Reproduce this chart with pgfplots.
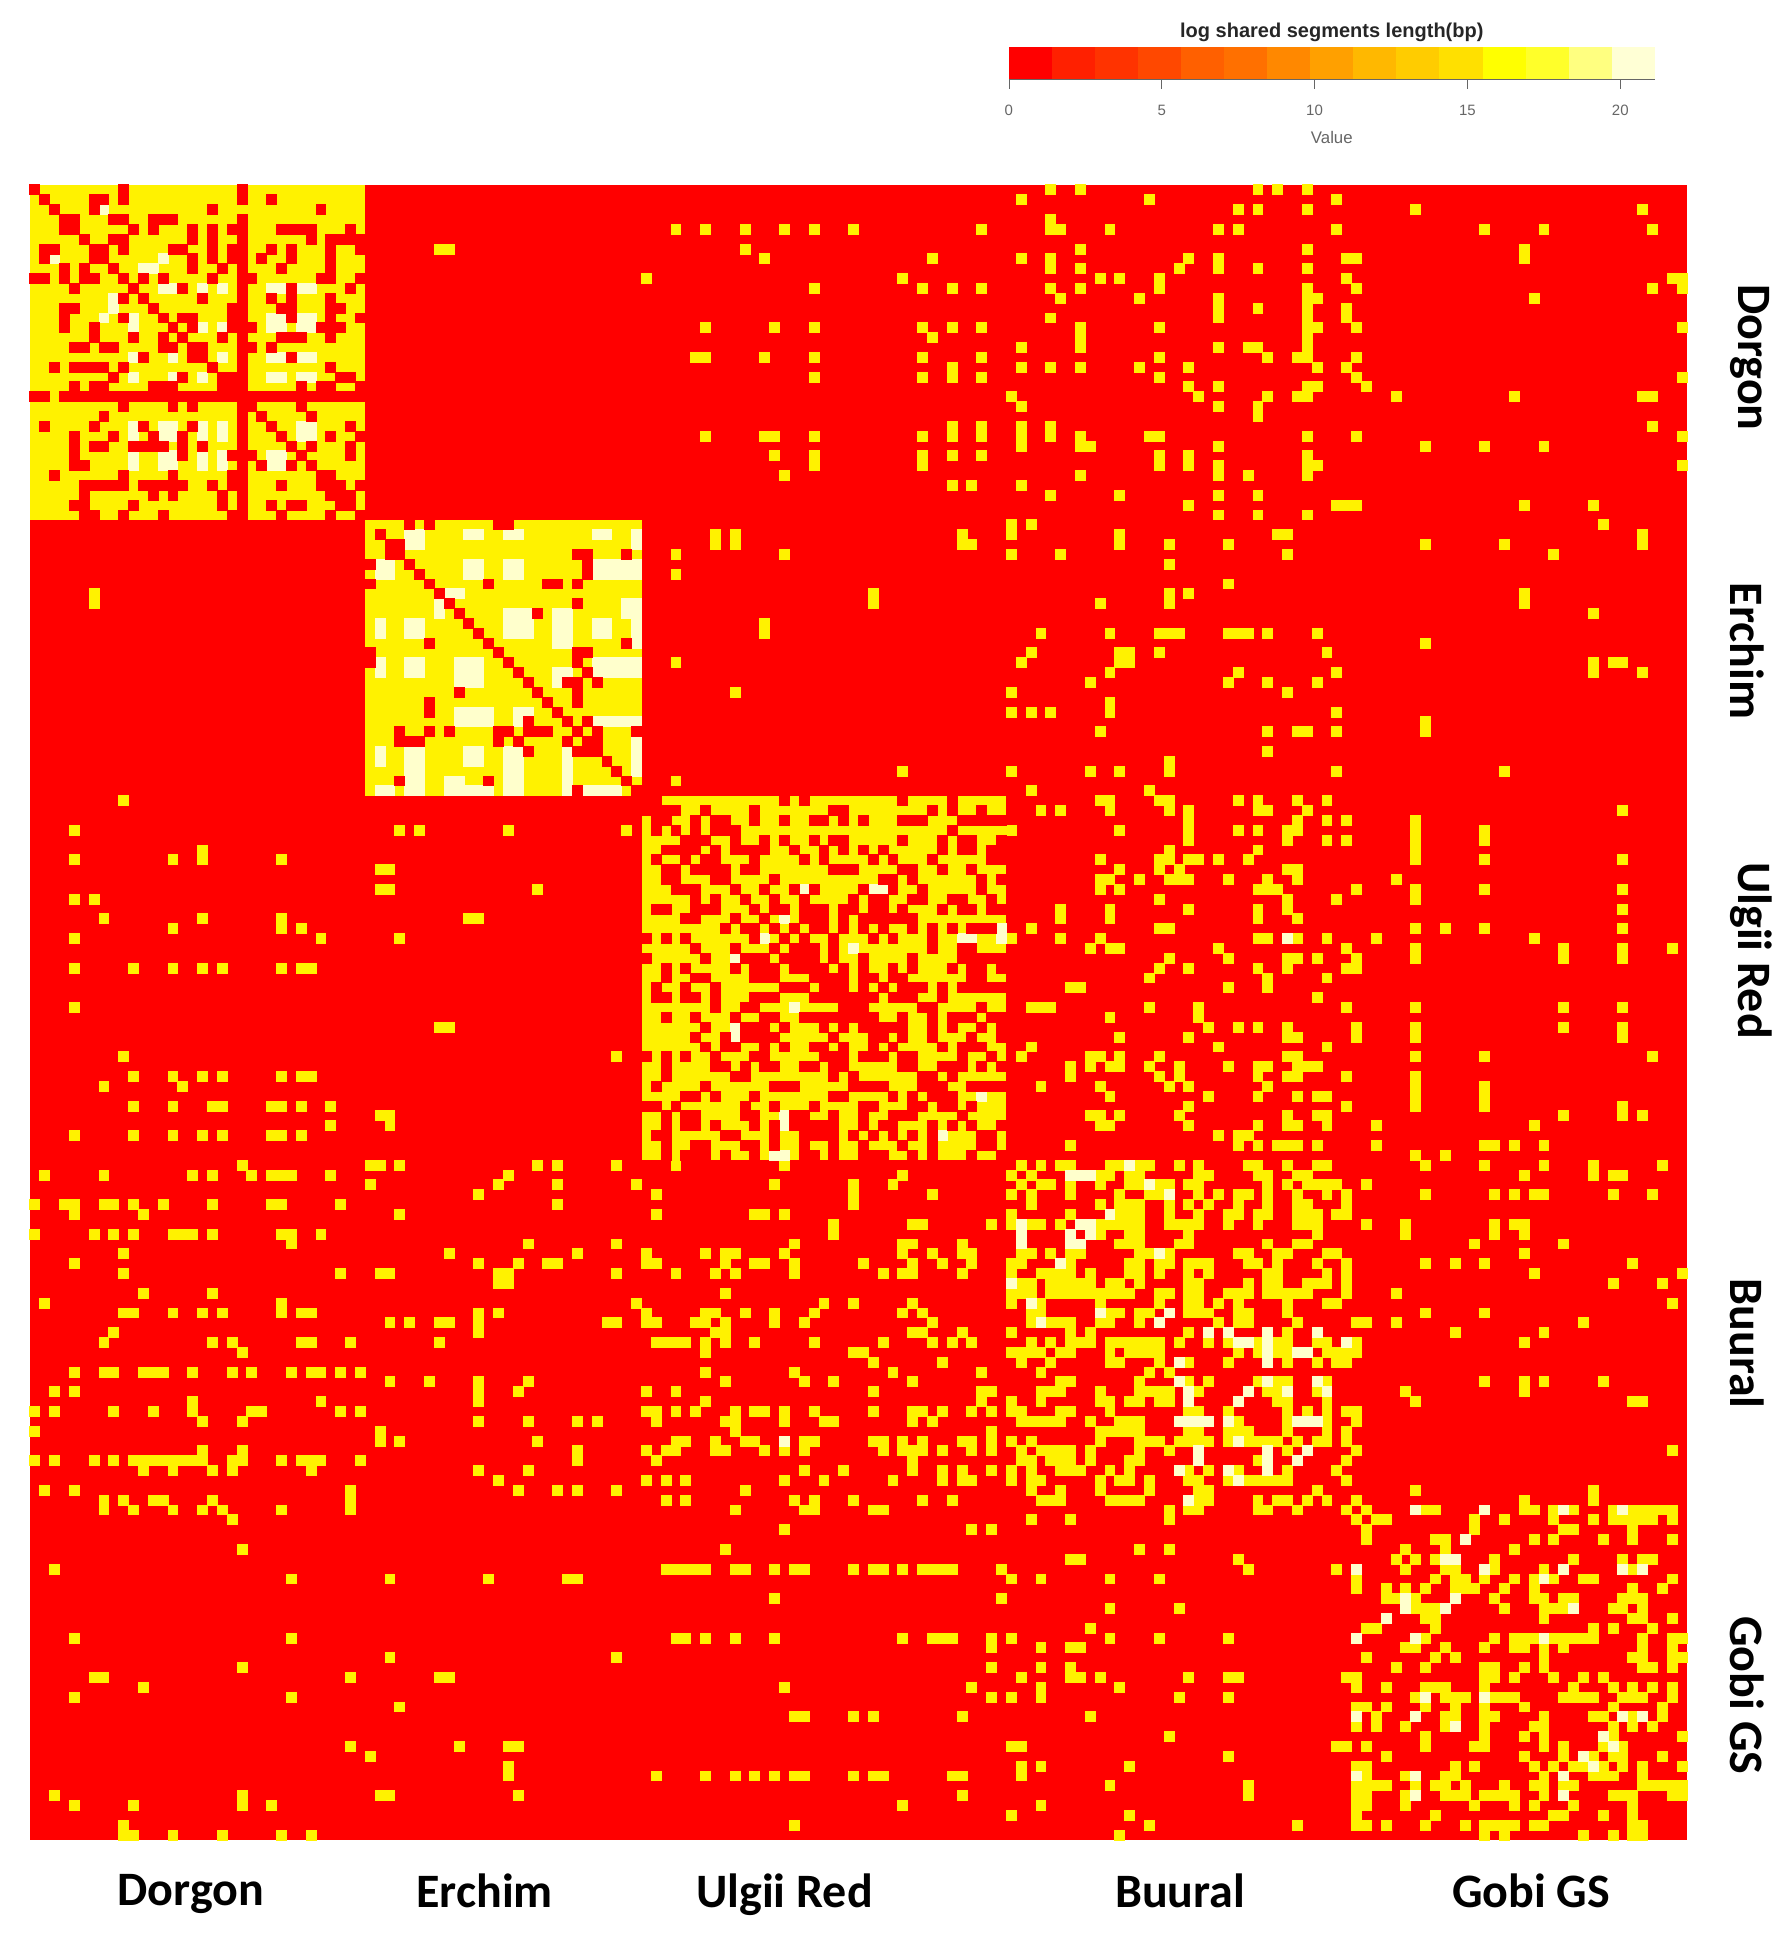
\documentclass[border=0pt]{standalone}
\usepackage{fontspec}
\setmainfont{Liberation Sans}
\newfontfamily\labfont{Carlito}
\usepackage{pgfplots}
\usepackage{pgfplotstable}
\pgfplotsset{compat=1.18}
\definecolor{pale}{HTML}{FFFFCC}
\definecolor{k0}{HTML}{FF0000}\definecolor{k1}{HTML}{FF2000}\definecolor{k2}{HTML}{FF3300}
\definecolor{k3}{HTML}{FF4800}\definecolor{k4}{HTML}{FF6000}\definecolor{k5}{HTML}{FF7000}
\definecolor{k6}{HTML}{FF8800}\definecolor{k7}{HTML}{FFA000}\definecolor{k8}{HTML}{FFB800}
\definecolor{k9}{HTML}{FFCC00}\definecolor{k10}{HTML}{FFE000}\definecolor{k11}{HTML}{FFFF00}
\definecolor{k12}{HTML}{FFFF2A}\definecolor{k13}{HTML}{FFFF80}\definecolor{k14}{HTML}{FFFFD5}

% upper triangle only, the matrix is symmetric: each table is plotted twice
% red cells inside the three yellow blocks
\pgfplotstableread[row sep=\\]{r c\\
0 0\\0 9\\0 21\\1 1\\1 6\\1 7\\1 9\\1 21\\1 24\\2 2\\2 6\\2 18\\2 29\\3 3\\3 4\\3 8\\3 9\\3 12\\3 13\\3 14\\3 21\\
4 4\\4 10\\4 12\\4 16\\4 18\\4 20\\4 21\\4 25\\4 26\\4 27\\4 28\\4 32\\5 5\\5 8\\5 9\\5 16\\5 18\\5 21\\5 28\\5 30\\5 31\\5 32\\5 33\\
6 6\\6 7\\6 9\\6 14\\6 15\\6 18\\6 20\\6 21\\6 24\\6 26\\6 30\\6 33\\7 7\\7 16\\7 18\\7 20\\7 21\\7 23\\7 26\\7 30\\
8 8\\8 16\\8 19\\8 21\\8 25\\8 30\\9 9\\9 11\\9 13\\9 18\\9 21\\9 22\\9 29\\9 30\\9 33\\10 10\\10 15\\10 21\\10 26\\10 32\\
11 11\\11 17\\11 21\\11 24\\11 26\\11 30\\12 12\\12 20\\12 21\\12 25\\12 26\\12 30\\12 31\\13 13\\13 15\\13 16\\13 20\\13 21\\13 26\\13 30\\13 33\\
14 14\\14 16\\14 20\\14 21\\14 22\\14 29\\14 30\\14 31\\15 15\\15 19\\15 21\\15 25\\15 26\\15 27\\15 30\\16 16\\16 17\\16 21\\16 22\\16 24\\
17 17\\17 21\\17 26\\18 18\\18 21\\18 30\\19 19\\19 20\\19 21\\19 31\\19 32\\20 20\\20 21\\20 27\\20 29\\20 30\\20 33\\
21 21\\21 22\\21 23\\21 24\\21 25\\21 26\\21 27\\21 28\\21 29\\21 30\\21 31\\21 32\\21 33\\22 22\\22 27\\23 23\\23 28\\24 24\\24 32\\25 25\\25 30\\25 33\\
26 26\\26 28\\26 32\\27 27\\27 32\\28 28\\29 29\\29 30\\30 30\\30 31\\30 33\\31 31\\31 32\\32 32\\33 33\\
34 38\\34 40\\34 47\\34 48\\35 35\\36 36\\36 37\\37 37\\37 55\\37 56\\37 60\\38 38\\38 56\\39 39\\39 56\\40 40\\40 46\\40 52\\40 53\\40 55\\41 41\\
42 42\\42 55\\43 43\\43 51\\44 44\\45 45\\46 46\\46 60\\47 47\\47 55\\47 56\\48 48\\48 55\\49 49\\49 56\\50 50\\50 54\\50 55\\50 57\\51 51\\51 55\\52 52\\52 55\\53 53\\54 54\\54 56\\55 55\\55 57\\55 61\\56 56\\56 57\\57 57\\58 58\\59 59\\60 60\\61 61\\
62 62\\62 63\\62 76\\62 78\\62 88\\62 93\\63 63\\63 64\\63 65\\63 68\\63 73\\63 81\\63 82\\63 91\\63 93\\63 96\\
64 64\\64 67\\64 69\\64 70\\64 73\\64 76\\64 79\\64 80\\64 82\\64 84\\64 88\\64 89\\64 90\\64 94\\64 95\\64 96\\64 97\\64 98\\
65 65\\65 67\\65 69\\65 70\\65 71\\65 93\\66 66\\66 67\\66 68\\66 71\\66 74\\66 76\\66 79\\66 81\\66 82\\66 88\\66 92\\66 94\\66 95\\66 98\\
67 67\\67 69\\67 71\\67 72\\67 73\\67 74\\67 77\\67 80\\67 82\\67 84\\67 86\\67 92\\67 94\\67 95\\67 97\\67 98\\
68 68\\68 69\\68 73\\68 78\\68 80\\68 85\\68 87\\68 91\\68 97\\68 98\\69 69\\69 70\\69 72\\69 73\\69 81\\69 82\\69 83\\69 88\\69 89\\69 92\\69 95\\
70 70\\70 75\\70 86\\70 87\\70 89\\70 96\\70 98\\71 71\\71 74\\71 77\\71 79\\71 84\\71 87\\71 90\\71 96\\
72 72\\72 75\\72 78\\72 83\\72 85\\72 86\\72 89\\72 90\\72 93\\72 94\\72 97\\
73 73\\73 75\\73 76\\73 78\\73 79\\73 80\\73 82\\73 83\\73 85\\73 86\\73 88\\73 92\\73 94\\73 95\\73 97\\73 98\\
74 74\\74 78\\74 79\\74 80\\74 82\\74 84\\74 85\\74 86\\74 87\\74 88\\74 89\\75 75\\75 77\\75 79\\75 80\\75 82\\75 84\\75 86\\75 89\\75 91\\75 93\\75 95\\75 96\\75 97\\
76 76\\76 78\\76 81\\76 85\\76 87\\76 91\\77 77\\77 78\\77 79\\77 81\\77 91\\77 94\\77 95\\78 78\\78 79\\78 81\\78 84\\78 89\\78 94\\78 95\\78 96\\78 97\\78 98\\
79 79\\79 80\\79 82\\79 84\\79 87\\79 89\\79 93\\79 95\\79 96\\79 98\\80 80\\80 81\\80 82\\80 84\\80 85\\80 87\\80 88\\80 95\\80 96\\
81 81\\81 82\\81 84\\81 86\\81 88\\81 89\\81 90\\81 92\\81 94\\81 95\\81 96\\81 97\\81 98\\82 82\\82 83\\82 84\\82 85\\82 87\\82 88\\82 89\\82 92\\83 83\\83 84\\83 90\\83 91\\83 96\\
84 84\\84 85\\84 88\\84 91\\84 93\\84 94\\84 95\\84 97\\84 98\\85 85\\85 86\\85 87\\85 88\\85 91\\85 93\\85 96\\85 98\\86 86\\86 88\\86 91\\86 95\\86 98\\
87 87\\87 92\\87 94\\87 95\\87 96\\88 88\\88 89\\88 94\\88 97\\89 89\\89 92\\89 93\\89 94\\89 96\\89 98\\90 90\\90 91\\90 93\\
91 91\\91 92\\91 95\\91 96\\91 97\\91 98\\92 92\\92 93\\93 93\\93 95\\94 94\\95 95\\95 98\\96 96\\96 97\\97 97\\98 98\\
}\redcells

% yellow cells outside the blocks
\pgfplotstableread[row sep=\\]{r c\\
0 103\\0 106\\0 124\\0 126\\0 129\\1 100\\1 113\\1 132\\2 122\\2 124\\2 129\\2 140\\2 163\\3 103\\
4 65\\4 68\\4 72\\4 76\\4 79\\4 83\\4 96\\4 103\\4 104\\4 109\\4 120\\4 122\\4 132\\4 147\\4 153\\4 164\\
6 41\\6 42\\6 72\\6 106\\6 129\\6 151\\7 74\\7 91\\7 100\\7 103\\7 117\\7 120\\7 133\\7 134\\7 151\\
8 103\\8 106\\8 116\\8 120\\8 124\\8 129\\9 62\\9 88\\9 108\\9 110\\9 114\\9 133\\9 166\\9 167\\
10 79\\10 90\\10 93\\10 96\\10 103\\10 106\\10 114\\10 129\\10 134\\10 164\\10 167\\11 104\\11 112\\11 120\\11 129\\11 130\\11 152\\
12 120\\12 124\\12 129\\12 133\\13 103\\13 120\\13 129\\13 133\\14 68\\14 75\\14 79\\14 90\\14 93\\14 96\\14 106\\14 114\\14 129\\14 130\\14 134\\14 167\\
15 91\\15 106\\15 129\\16 100\\16 106\\16 120\\16 123\\16 124\\16 129\\17 67\\17 68\\17 74\\17 79\\17 90\\17 96\\17 114\\17 125\\17 128\\17 129\\17 134\\
18 93\\18 100\\18 103\\18 106\\18 112\\18 117\\18 130\\18 133\\19 79\\19 90\\19 93\\19 96\\19 114\\19 134\\19 167\\20 117\\20 120\\20 129\\20 130\\20 135\\
21 99\\21 118\\21 125\\21 128\\21 129\\21 138\\21 150\\21 163\\21 164\\22 100\\22 120\\22 124\\23 124\\24 93\\24 96\\24 100\\24 103\\24 164\\
25 68\\25 74\\25 75\\25 79\\25 90\\25 93\\25 96\\25 100\\25 103\\25 106\\25 113\\25 114\\25 129\\25 134\\25 167\\26 100\\26 106\\26 107\\26 120\\26 141\\26 147\\26 153\\
27 75\\27 79\\27 90\\27 93\\27 96\\27 114\\27 117\\27 129\\28 79\\28 90\\28 114\\28 117\\28 120\\28 129\\28 130\\28 167\\29 76\\29 106\\29 120\\29 123\\29 129\\
30 93\\30 95\\30 100\\31 103\\31 110\\31 120\\31 124\\32 117\\32 132\\32 133\\32 134\\32 151\\32 158\\33 120\\33 124\\33 129\\34 99\\34 101\\34 159\\
35 69\\35 71\\35 94\\35 99\\35 110\\35 126\\35 127\\35 163\\36 69\\36 71\\36 94\\36 95\\36 110\\36 115\\36 121\\36 141\\36 149\\36 163\\
37 65\\37 76\\37 99\\37 104\\37 127\\37 154\\38 115\\39 65\\40 121\\41 85\\41 115\\41 117\\41 151\\42 85\\42 108\\42 115\\42 151\\43 158\\44 74\\
45 74\\45 102\\45 109\\45 114\\45 115\\45 116\\45 121\\45 122\\45 123\\45 125\\45 130\\46 141\\47 101\\47 110\\47 111\\47 114\\47 131\\
48 65\\48 100\\48 110\\48 111\\48 158\\48 160\\48 161\\49 109\\49 122\\49 132\\49 158\\49 163\\50 107\\50 121\\50 125\\50 130\\51 71\\51 99\\51 127\\52 109\\
53 99\\53 101\\53 103\\53 109\\53 132\\54 141\\55 108\\55 125\\55 128\\55 129\\55 132\\55 141\\57 125\\58 115\\59 88\\59 99\\59 107\\59 110\\59 115\\59 132\\59 149\\60 65\\61 101\\61 113\\
62 108\\62 109\\62 114\\62 115\\62 122\\62 124\\62 128\\62 131\\63 102\\63 104\\63 109\\63 115\\63 117\\63 124\\63 125\\63 129\\63 161\\64 117\\64 128\\64 131\\64 133\\64 140\\
65 99\\65 110\\65 117\\65 122\\65 124\\65 127\\65 128\\65 140\\65 147\\66 117\\66 127\\66 131\\66 133\\66 140\\66 147\\67 115\\67 124\\67 140\\
68 108\\68 114\\68 115\\68 117\\68 118\\68 120\\68 123\\68 140\\68 147\\68 161\\69 110\\69 114\\69 116\\69 127\\69 128\\
70 108\\70 109\\70 112\\70 115\\70 116\\70 117\\70 121\\70 125\\70 128\\70 138\\71 108\\71 110\\71 124\\71 125\\71 126\\71 134\\71 140\\71 147\\71 161\\
72 114\\72 127\\72 132\\72 140\\73 104\\73 109\\73 117\\73 124\\73 127\\73 161\\74 104\\74 109\\74 124\\74 128\\75 101\\75 114\\75 115\\75 140\\75 143\\75 147\\75 161\\
76 99\\76 104\\76 108\\76 124\\76 125\\76 127\\76 128\\76 131\\76 136\\76 152\\77 107\\77 109\\77 110\\77 120\\77 133\\77 140\\77 155\\77 161\\77 166\\
78 115\\78 121\\78 127\\78 128\\78 130\\78 134\\78 140\\78 155\\78 161\\79 114\\79 117\\79 124\\79 127\\79 133\\79 134\\80 113\\80 125\\80 131\\81 105\\81 106\\81 121\\81 125\\82 130\\
83 101\\83 102\\83 103\\83 113\\83 118\\83 133\\83 140\\83 155\\83 161\\84 109\\84 118\\85 119\\85 122\\85 124\\85 127\\85 134\\85 140\\85 155\\85 161\\86 110\\86 117\\86 127\\86 128\\86 134\\86 140\\86 161\\87 101\\87 120\\87 131\\
88 100\\88 107\\88 108\\88 110\\88 114\\88 127\\88 128\\88 140\\88 147\\88 164\\89 105\\89 107\\89 109\\89 110\\89 113\\89 116\\89 121\\89 124\\89 125\\89 128\\89 129\\89 130\\
90 105\\90 114\\90 116\\90 124\\90 127\\90 128\\90 133\\90 140\\91 102\\91 108\\91 115\\91 117\\91 125\\91 140\\91 147\\92 109\\92 119\\92 124\\92 128\\92 130\\92 131\\92 140\\92 147\\93 117\\93 133\\93 140\\93 147\\93 161\\
94 107\\94 108\\94 110\\94 116\\94 127\\94 130\\94 131\\94 155\\94 161\\94 163\\95 108\\95 109\\95 117\\95 124\\95 127\\95 128\\95 131\\95 136\\95 152\\96 120\\96 122\\96 123\\
97 105\\97 122\\97 124\\97 126\\97 127\\97 128\\97 130\\97 136\\97 147\\97 148\\97 150\\97 153\\98 140\\98 143\\
99 100\\99 102\\99 104\\99 105\\99 109\\99 110\\99 111\\99 112\\99 113\\99 116\\99 118\\99 123\\99 124\\99 127\\99 130\\99 131\\99 141\\99 147\\99 153\\99 158\\99 165\\
100 101\\100 105\\100 106\\100 107\\100 108\\100 109\\100 111\\100 112\\100 118\\100 119\\100 124\\100 125\\100 128\\100 129\\100 151\\100 158\\100 160\\100 161\\
101 102\\101 103\\101 105\\101 108\\101 111\\101 112\\101 113\\101 114\\101 115\\101 117\\101 118\\101 125\\101 127\\101 129\\101 130\\101 131\\101 132\\101 135\\
102 105\\102 110\\102 113\\102 114\\102 115\\102 118\\102 120\\102 122\\102 123\\102 125\\102 128\\102 131\\102 133\\102 141\\102 148\\102 150\\102 152\\102 153\\102 160\\102 164\\
103 108\\103 110\\103 111\\103 112\\103 115\\103 117\\103 119\\103 122\\103 125\\103 128\\103 129\\103 133\\104 105\\104 110\\104 111\\104 112\\104 115\\104 118\\104 121\\104 122\\104 124\\104 125\\104 128\\104 129\\104 130\\104 132\\104 133\\
105 108\\105 109\\105 110\\105 111\\105 112\\105 115\\105 116\\105 117\\105 118\\105 121\\105 124\\105 128\\105 129\\105 130\\105 135\\105 139\\105 148\\105 150\\105 151\\106 108\\106 111\\106 112\\106 117\\106 130\\106 139\\106 148\\106 151\\
107 110\\107 111\\107 112\\107 116\\107 117\\107 125\\107 128\\107 129\\107 146\\107 155\\108 112\\108 113\\108 115\\108 122\\108 123\\108 126\\108 127\\108 131\\108 132\\108 151\\
109 111\\109 112\\109 114\\109 115\\109 117\\109 118\\109 119\\109 123\\109 124\\109 126\\109 130\\109 133\\109 141\\109 144\\109 147\\109 162\\110 111\\110 112\\110 114\\110 117\\110 119\\110 125\\110 126\\110 131\\110 133\\110 152\\110 167\\
111 112\\111 117\\111 118\\111 123\\111 125\\111 126\\111 129\\111 130\\111 131\\111 133\\111 160\\111 165\\112 114\\112 115\\112 117\\112 118\\112 121\\112 122\\112 123\\112 125\\112 126\\112 127\\112 128\\112 129\\112 133\\112 138\\
113 114\\113 117\\113 118\\113 120\\113 122\\113 127\\113 131\\113 132\\113 166\\114 117\\114 118\\114 119\\114 122\\114 123\\114 127\\114 141\\114 147\\115 120\\115 122\\115 123\\115 128\\115 134\\115 135\\115 138\\115 157\\116 117\\116 127\\116 144\\116 153\\
117 119\\117 121\\117 124\\117 126\\117 127\\117 130\\117 131\\117 133\\117 134\\117 151\\118 122\\118 124\\118 125\\118 126\\118 127\\118 131\\118 132\\118 133\\118 134\\119 121\\119 127\\119 130\\119 132\\119 133\\
121 124\\121 126\\121 127\\121 130\\121 131\\121 147\\121 151\\121 153\\121 159\\122 125\\122 126\\122 130\\122 139\\122 151\\123 126\\123 127\\123 131\\123 140\\123 162\\123 163\\124 127\\124 129\\124 131\\124 133\\124 134\\125 127\\125 131\\125 134\\
126 127\\126 131\\126 133\\127 128\\127 130\\127 131\\127 133\\128 134\\128 166\\129 133\\130 132\\131 133\\132 140\\132 158\\133 134\\133 151\\133 158\\
134 135\\134 141\\134 142\\134 151\\134 152\\134 154\\134 156\\134 160\\134 162\\134 163\\134 164\\134 165\\134 166\\135 136\\135 137\\135 146\\135 149\\135 154\\135 158\\135 160\\135 161\\135 162\\135 163\\135 164\\135 166\\
136 146\\136 155\\136 156\\136 162\\137 142\\137 143\\137 152\\137 154\\137 159\\137 162\\137 166\\138 139\\138 143\\138 150\\139 140\\139 142\\139 148\\139 156\\139 161\\139 163\\139 164\\
140 143\\140 144\\140 148\\140 153\\140 162\\141 142\\141 144\\141 145\\141 147\\141 150\\141 152\\141 154\\141 157\\141 158\\141 166\\142 144\\142 145\\142 146\\142 149\\142 152\\142 162\\142 165\\
143 148\\143 152\\143 153\\143 155\\143 156\\143 161\\143 162\\143 163\\144 149\\144 153\\144 154\\144 155\\144 160\\144 161\\144 163\\145 153\\145 162\\145 163\\145 166\\146 158\\146 160\\146 164\\
147 148\\147 150\\147 151\\147 152\\147 154\\147 155\\147 156\\147 157\\147 158\\147 163\\147 166\\147 167\\148 150\\148 151\\148 153\\148 155\\148 163\\148 166\\149 153\\149 162\\149 163\\149 166\\149 167\\
150 151\\150 153\\150 163\\150 164\\150 166\\151 154\\151 157\\151 159\\152 156\\152 160\\152 162\\152 164\\152 166\\153 155\\153 156\\153 157\\153 158\\153 161\\153 162\\153 163\\153 166\\154 160\\154 165\\
155 158\\155 159\\155 162\\155 165\\156 160\\156 162\\156 164\\157 160\\157 167\\158 159\\158 161\\159 160\\159 161\\159 165\\160 161\\160 163\\160 167\\161 163\\162 163\\162 164\\162 165\\162 166\\162 167\\163 166\\163 167\\
}\yellowcells

% pale cells, highest values
\pgfplotstableread[row sep=\\]{r c\\
2 7\\7 13\\8 11\\8 12\\10 13\\10 14\\10 17\\10 19\\10 24\\10 25\\10 27\\10 28\\13 24\\13 25\\13 27\\13 28\\14 17\\14 19\\14 24\\14 25\\14 27\\14 28\\17 19\\17 24\\17 25\\17 27\\17 28\\19 24\\19 25\\19 27\\19 28\\24 27\\24 28\\25 27\\25 28\\
35 38\\35 39\\35 44\\35 45\\35 48\\35 49\\35 57\\35 58\\35 61\\36 38\\36 39\\36 61\\38 44\\38 45\\38 48\\38 49\\38 57\\38 58\\38 59\\38 60\\38 61\\39 44\\39 45\\39 48\\39 49\\39 57\\39 58\\39 59\\39 60\\39 61\\41 42\\41 43\\
42 60\\42 61\\43 48\\43 49\\43 50\\43 53\\43 54\\43 60\\43 61\\44 48\\44 49\\44 50\\44 53\\44 54\\44 57\\44 58\\44 61\\45 48\\45 49\\45 50\\45 53\\45 54\\45 57\\45 58\\45 61\\46 53\\46 54\\46 61\\
48 57\\48 58\\48 59\\48 60\\48 61\\49 53\\49 54\\49 57\\49 58\\49 59\\49 60\\49 61\\50 53\\50 54\\54 57\\54 58\\54 59\\54 60\\54 61\\56 61\\57 61\\58 61\\59 61\\
71 78\\71 85\\71 86\\74 76\\75 98\\76 94\\76 95\\76 98\\76 127\\77 83\\92 96\\
99 111\\100 105\\100 106\\100 107\\101 113\\102 115\\104 109\\105 106\\105 107\\106 107\\108 114\\114 115\\116 119\\116 121\\116 125\\116 130\\117 122\\117 123\\117 125\\117 133\\118 125\\118 128\\118 129\\119 125\\121 125\\121 130\\122 123\\122 127\\122 131\\125 128\\125 129\\125 130\\128 129\\
134 140\\134 147\\134 155\\134 161\\137 145\\139 143\\139 144\\140 147\\140 155\\140 161\\140 163\\141 153\\143 144\\144 156\\147 153\\155 161\\155 163\\157 159\\158 160\\
}\palecells

\pgfplotsset{cell/.style={only marks, mark=square*, mark size=2.48pt, line width=0pt}}

\begin{document}
\begin{tikzpicture}[x=1pt,y=1pt]
\path[use as bounding box] (0,0) rectangle (896,967);
\begin{axis}[
    name=heat,
    at={(15pt,47pt)}, anchor=south west,
    scale only axis, width=828.5pt, height=827.5pt,
    xmin=-0.5, xmax=167.5, ymin=-0.5, ymax=167.5,
    y dir=reverse,
    axis background/.style={fill=red},
    axis line style={draw=none},
    tick style={draw=none},
    xtick={15.8,45.6,76,116.1,151.7},
    xticklabels={Dorgon,Erchim,Ulgii Red,Buural,Gobi GS},
    xtick pos=bottom,
    xticklabel style={font=\labfont\bfseries\fontsize{24}{24}\selectfont, yshift=-13.5pt},
    ytick={17,46.8,77.2,117.1,152.8},
    yticklabels={Dorgon,Erchim,Ulgii Red,Buural,Gobi GS},
    ytick pos=right, yticklabel pos=right,
    yticklabel style={font=\labfont\bfseries\fontsize{24}{24}\selectfont, rotate=-90, anchor=south, yshift=18pt},
]
% yellow blocks of the first three breeds
\addplot[fill=yellow, draw=none, no marks] coordinates {(-0.5,-0.5)(33.5,-0.5)(33.5,33.5)(-0.5,33.5)} -- cycle;
\addplot[fill=yellow, draw=none, no marks] coordinates {(33.5,33.5)(61.5,33.5)(61.5,61.5)(33.5,61.5)} -- cycle;
\addplot[fill=yellow, draw=none, no marks] coordinates {(61.5,61.5)(98.5,61.5)(98.5,98.5)(61.5,98.5)} -- cycle;
\addplot[cell, color=yellow] table[x=c,y=r] {\yellowcells};
\addplot[cell, color=yellow] table[x=r,y=c] {\yellowcells};
\addplot[cell, color=pale] table[x=c,y=r] {\palecells};
\addplot[cell, color=pale] table[x=r,y=c] {\palecells};
\addplot[cell, color=red] table[x=c,y=r] {\redcells};
\addplot[cell, color=red] table[x=r,y=c] {\redcells};
\end{axis}
% colour key
\begin{axis}[
    at={(504.4pt,927.5pt)}, anchor=south west,
    scale only axis, width=323pt, height=16pt,
    xmin=0, xmax=21.13, ymin=0, ymax=1,
    axis y line=none, axis x line=bottom,
    axis line style={draw=black!60, -},
    xtick={0,5,10,15,20},
    tick align=outside, major tick length=5pt,
    tick style={draw=black!60},
    /pgf/number format/assume math mode=true,
    xticklabel style={font=\fontsize{7.5}{8}\selectfont, text=black!60, yshift=-4.5pt},
    xlabel={Value},
    xlabel style={font=\fontsize{8.4}{9}\selectfont, text=black!60, yshift=-1pt},
    title={log shared segments length(bp)},
    title style={font=\bfseries\fontsize{10}{11}\selectfont, text=black!85, yshift=-7pt},
    clip=false,
]
\addplot[fill=k0,draw=none] coordinates {(0,0)(1.409,0)(1.409,1)(0,1)} -- cycle;
\addplot[fill=k1,draw=none] coordinates {(1.409,0)(2.817,0)(2.817,1)(1.409,1)} -- cycle;
\addplot[fill=k2,draw=none] coordinates {(2.817,0)(4.226,0)(4.226,1)(2.817,1)} -- cycle;
\addplot[fill=k3,draw=none] coordinates {(4.226,0)(5.635,0)(5.635,1)(4.226,1)} -- cycle;
\addplot[fill=k4,draw=none] coordinates {(5.635,0)(7.043,0)(7.043,1)(5.635,1)} -- cycle;
\addplot[fill=k5,draw=none] coordinates {(7.043,0)(8.452,0)(8.452,1)(7.043,1)} -- cycle;
\addplot[fill=k6,draw=none] coordinates {(8.452,0)(9.861,0)(9.861,1)(8.452,1)} -- cycle;
\addplot[fill=k7,draw=none] coordinates {(9.861,0)(11.269,0)(11.269,1)(9.861,1)} -- cycle;
\addplot[fill=k8,draw=none] coordinates {(11.269,0)(12.678,0)(12.678,1)(11.269,1)} -- cycle;
\addplot[fill=k9,draw=none] coordinates {(12.678,0)(14.087,0)(14.087,1)(12.678,1)} -- cycle;
\addplot[fill=k10,draw=none] coordinates {(14.087,0)(15.495,0)(15.495,1)(14.087,1)} -- cycle;
\addplot[fill=k11,draw=none] coordinates {(15.495,0)(16.904,0)(16.904,1)(15.495,1)} -- cycle;
\addplot[fill=k12,draw=none] coordinates {(16.904,0)(18.313,0)(18.313,1)(16.904,1)} -- cycle;
\addplot[fill=k13,draw=none] coordinates {(18.313,0)(19.721,0)(19.721,1)(18.313,1)} -- cycle;
\addplot[fill=k14,draw=none] coordinates {(19.721,0)(21.13,0)(21.13,1)(19.721,1)} -- cycle;
\end{axis}
\end{tikzpicture}
\end{document}
